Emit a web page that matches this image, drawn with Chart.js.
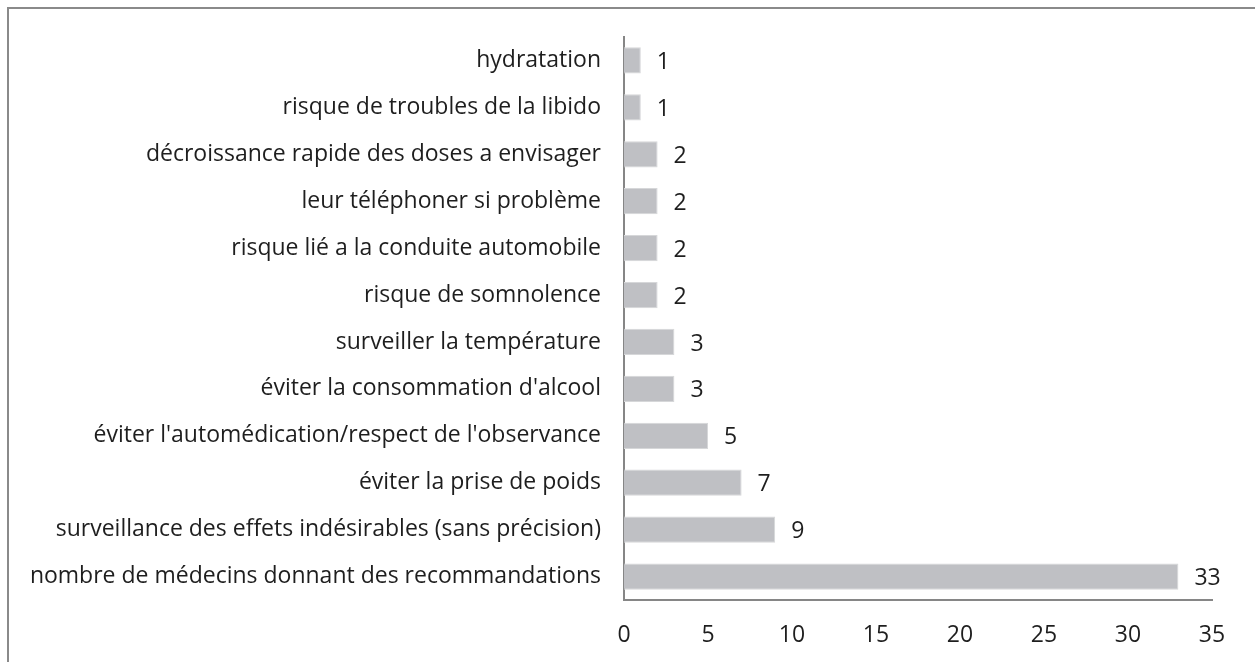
<!DOCTYPE html>
<html>
<head>
<meta charset="utf-8">
<script src="https://cdn.jsdelivr.net/npm/chart.js@4"></script>
<style>
  html, body { margin: 0; padding: 0; background: #fff; overflow: hidden; }
  #frame { position: absolute; left: 7px; top: 7px; width: 1400px; height: 800px; border: 2px solid #8a8a8a; }
  #wrap { position: absolute; left: 0; top: 0; width: 1255px; height: 662px; }
</style>
</head>
<body>
<div id="frame"></div>
<div id="wrap"><canvas id="chart"></canvas></div>
<script>
// categories, top to bottom
var categories = [
  'hydratation',
  'risque de troubles de la libido',
  'décroissance rapide des doses a envisager',
  'leur téléphoner si problème',
  'risque lié a la conduite automobile',
  'risque de somnolence',
  'surveiller la température',
  "éviter la consommation d'alcool",
  "éviter l'automédication/respect de l'observance",
  'éviter la prise de poids',
  'surveillance des effets indésirables (sans précision)',
  'nombre de médecins donnant des recommandations'
];
var values = [1, 1, 2, 2, 2, 2, 3, 3, 5, 7, 9, 33];
var xTicks = [0, 5, 10, 15, 20, 25, 30, 35];

var FONT = "'Open Sans', sans-serif";
var TEXT = '#1e1e1e';

// draw the number to the right of each bar
var valueLabels = {
  id: 'valueLabels',
  afterDatasetsDraw: function(chart) {
    var ctx = chart.ctx;
    var meta = chart.getDatasetMeta(0);
    ctx.save();
    ctx.font = '23px ' + FONT;
    ctx.fillStyle = TEXT;
    ctx.textAlign = 'left';
    ctx.textBaseline = 'middle';
    meta.data.forEach(function(bar, i) {
      ctx.fillText(String(values[i]), bar.x + 16, bar.y + 2);
    });
    ctx.restore();
  }
};

var ctx = document.getElementById('chart').getContext('2d');
var chart = new Chart(ctx, {
  type: 'bar',
  data: {
    labels: categories,
    datasets: [{
      data: values,
      backgroundColor: '#bfc0c4',
      borderColor: '#d6d7d9',
      borderWidth: 1,
      barPercentage: 0.56,
      categoryPercentage: 1
    }]
  },
  options: {
    indexAxis: 'y',
    responsive: true,
    maintainAspectRatio: false,
    animation: false,
    layout: { padding: { top: 37, right: 43, left: 0, bottom: 0 } },
    plugins: {
      legend: { display: false },
      tooltip: { enabled: false }
    },
    scales: {
      x: {
        min: 0,
        max: 35,
        afterBuildTicks: function(scale) {
          scale.ticks = xTicks.map(function(v) { return { value: v }; });
        },
        afterFit: function(scale) { scale.height = 62; },
        grid: { display: false, drawTicks: false },
        border: { display: true, color: '#868686', width: 2 },
        ticks: { color: TEXT, font: { family: FONT, size: 23 }, padding: 22, maxRotation: 0 }
      },
      y: {
        afterFit: function(scale) { scale.width = 624; },
        grid: { display: false, drawTicks: false },
        border: { display: true, color: '#868686', width: 2 },
        ticks: { color: TEXT, font: { family: FONT, size: 23 }, padding: 23, autoSkip: false }
      }
    }
  },
  plugins: [valueLabels]
});
</script>
</body>
</html>
